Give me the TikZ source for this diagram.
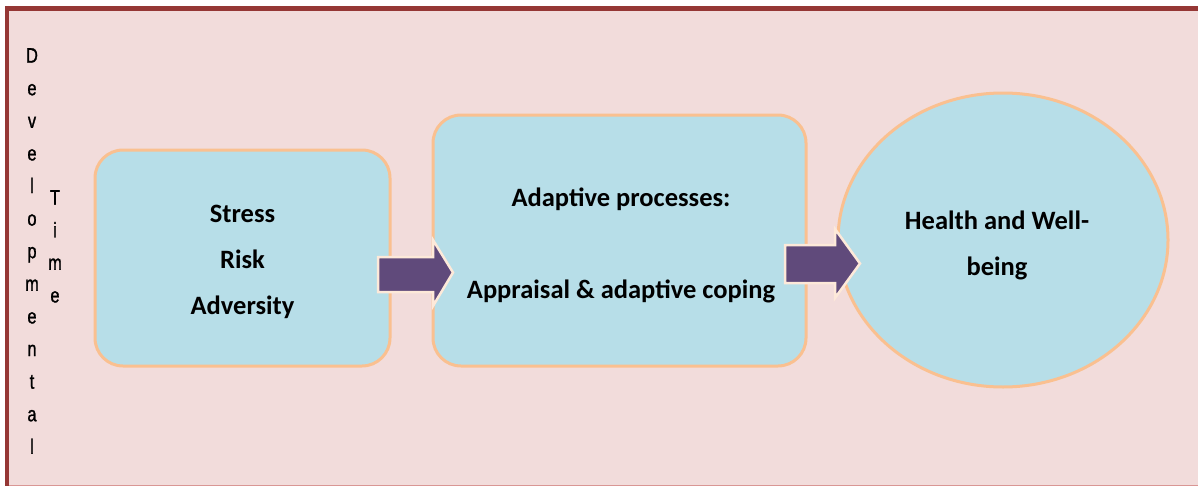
\documentclass[tikz,border=0pt]{standalone}
\usepackage{fontspec}
\setmainfont{Carlito}
\newfontfamily\narrowfont[FakeStretch=0.78,FakeBold=1.2]{Liberation Sans}
\definecolor{bgpink}{HTML}{F2DCDB}
\definecolor{framered}{HTML}{953735}
\definecolor{boxblue}{HTML}{B7DEE8}
\definecolor{boxline}{HTML}{FAC090}
\definecolor{arrowfill}{HTML}{604A7B}
\definecolor{arrowline}{HTML}{FDE9D9}
\definecolor{bottomline}{HTML}{D99694}
\begin{document}
\begin{tikzpicture}[x=1pt,y=-1pt,
  blockbox/.style={draw=boxline,line width=3pt,fill=boxblue,rounded corners=28pt},
  blocktext/.style={font=\bfseries\fontsize{26.5}{46}\selectfont,align=center,text=black,inner sep=0pt},
  blockarrow/.style={fill=arrowfill,draw=arrowline,line width=2.5pt,line join=miter},
  vtext/.style={font=\narrowfont\fontsize{21}{32.6}\selectfont,align=center,inner sep=0pt}]
\useasboundingbox (0,0) rectangle (1198,487);
% background frame
\fill[bgpink] (5,6) rectangle (1198,486);
\draw[bottomline,line width=1pt] (5,485.5) -- (1198,485.5);
\draw[framered,line width=5pt] (5,8.5) -- (1198,8.5);
\draw[framered,line width=4pt] (7,6) -- (7,486);
% vertical texts
\node[vtext,anchor=north] (dev) at (32,48) {D\\e\\v\\e\\l\\o\\p\\m\\e\\n\\t\\a\\l};
\node[vtext,anchor=north] (time) at (55,190) {T\\i\\m\\e};
% boxes
\draw[blockbox] (95,150) rectangle (390,366);
\draw[blockbox] (433,115) rectangle (806,366);
\draw[draw=boxline,line width=3pt,fill=boxblue] (1003,240) ellipse [x radius=165, y radius=147];
% texts
\node[blocktext] (t1) at (242.5,262) {Stress\\Risk\\Adversity};
\node[blocktext] (t2) at (621,245) {Adaptive processes:\\[46pt]Appraisal \& adaptive coping};
\node[blocktext] (t3) at (997,245) {Health and Well-\\being};
% arrows
\draw[blockarrow] (378,257) -- (433,257) -- (433,240) -- (453,272.5) -- (433,306) -- (433,292) -- (378,292) -- cycle;
\draw[blockarrow] (785,245) -- (835,245) -- (835,229) -- (860,263.5) -- (835,298) -- (835,283) -- (785,283) -- cycle;
\end{tikzpicture}
\end{document}
